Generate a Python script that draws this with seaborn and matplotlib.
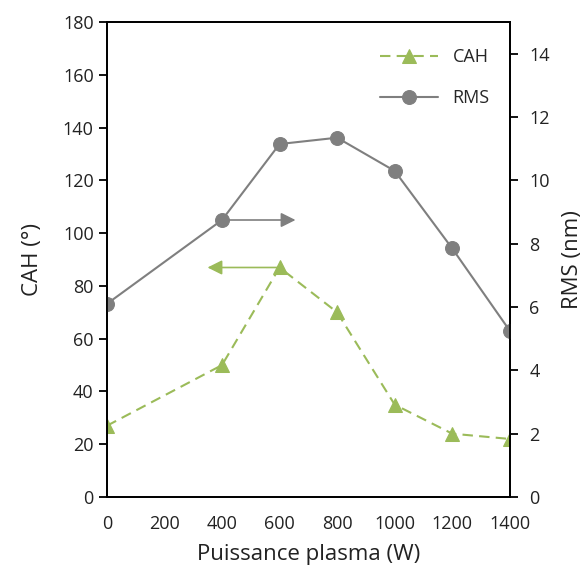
import matplotlib.pyplot as plt
import seaborn as sns
import pandas as pd

# values
puissance = [0, 400, 600, 800, 1000, 1200, 1400]
cah = [27, 50, 87, 70, 35, 24, 22]
rms = [6.1, 8.75, 11.15, 11.35, 10.3, 7.85, 5.25]

green = '#9BBB59'
grey = '#7F7F7F'

sns.set_style('white')
plt.rcParams['font.family'] = ['Open Sans', 'DejaVu Sans']

df = pd.DataFrame({'puissance': puissance, 'CAH': cah, 'RMS': rms})

fig = plt.figure(figsize=(5.84, 5.68), dpi=100)
ax = fig.add_axes([0.183, 0.125, 0.690, 0.836])
ax2 = ax.twinx()

sns.lineplot(data=df, x='puissance', y='CAH', ax=ax, color=green, marker='^',
             markersize=10, markeredgecolor=green, dashes=False, linewidth=1.5,
             label='CAH', legend=False)
ax.lines[0].set_dashes((5, 3))
sns.lineplot(data=df, x='puissance', y='RMS', ax=ax2, color=grey, marker='o',
             markersize=10, markeredgecolor=grey, linewidth=1.5,
             label='RMS', legend=False)

ax.set_xlim(0, 1400)
ax.set_ylim(0, 180)
ax2.set_ylim(0, 15)
ax.set_xticks(range(0, 1401, 200))
ax.set_yticks(range(0, 181, 20))
ax2.set_yticks(range(0, 15, 2))

ax.set_xlabel('Puissance plasma (W)', fontsize=16, color='#222222', labelpad=8)
ax.set_ylabel('CAH (°)', fontsize=16, color='#222222', labelpad=14)
ax2.set_ylabel('RMS (nm)', fontsize=16, color='#222222', labelpad=9)

for a in (ax, ax2):
    for s in a.spines.values():
        s.set_color('black')
        s.set_linewidth(1.3)
ax.tick_params(axis='y', direction='out', length=6, width=1.3, labelsize=13, colors='black', labelcolor='#222222')
ax.tick_params(axis='x', direction='inout', length=10, width=1.3, labelsize=13, colors='black', labelcolor='#222222', pad=8)
ax2.tick_params(axis='y', direction='out', length=6, width=1.3, labelsize=13, colors='black', labelcolor='#222222', pad=8)

# arrows pointing to the matching axis
ax2.annotate('', xy=(665, rms[1]), xytext=(400, rms[1]),
             arrowprops=dict(arrowstyle='-|>', color=grey, lw=1.2, mutation_scale=22))
ax.annotate('', xy=(340, cah[2]), xytext=(600, cah[2]),
            arrowprops=dict(arrowstyle='-|>', color=green, lw=1.2, mutation_scale=22))

h1, l1 = ax.get_legend_handles_labels()
h2, l2 = ax2.get_legend_handles_labels()
ax2.legend(h1 + h2, l1 + l2, loc='upper right', frameon=False, fontsize=13,
           bbox_to_anchor=(0.99, 0.98), handlelength=3.2, labelspacing=1.3)

fig.savefig('out.png', dpi=100)
